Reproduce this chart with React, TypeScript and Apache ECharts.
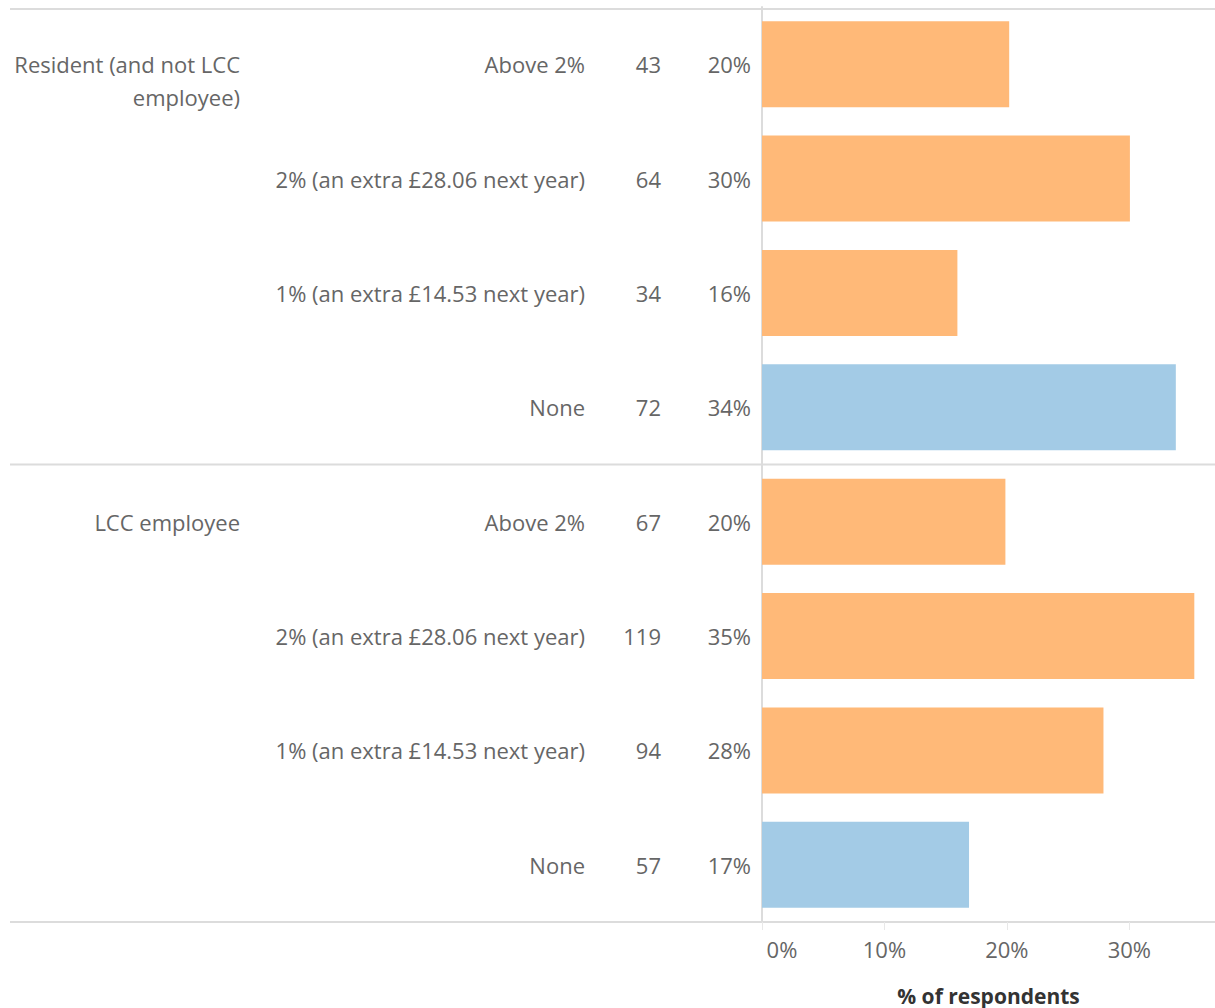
import React, { useEffect, useRef } from "react";
import * as echarts from "echarts";

const GROUP_LABELS = ["Resident (and not LCC\nemployee)", "LCC employee"];
const CATEGORIES = [
  "Above 2%",
  "2% (an extra £28.06 next year)",
  "1% (an extra £14.53 next year)",
  "None",
];
const RESIDENT_COUNTS = [43, 64, 34, 72];
const EMPLOYEE_COUNTS = [67, 119, 94, 57];
const RESIDENT_PCT = [20.19, 30.05, 15.96, 33.8];
const EMPLOYEE_PCT = [19.88, 35.31, 27.89, 16.91];
const X_TICKS = [0, 10, 20, 30];
const AXIS_TITLE = "% of respondents";

const ORANGE = "#ffb978";
const BLUE = "#a3cbe6";
const TEXT = "#666666";
const LINE = "#dcdcdc";
const FONT = "Open Sans";
const FS = 22;

const GRID_LEFT = 762;
const GRID_TOP = 7;
const GRID_W = 453;
const GRID_H = 915;

export default function App() {
  const ref = useRef<HTMLDivElement>(null);
  useEffect(() => {
    if (!ref.current) return;
    const chart = echarts.init(ref.current, undefined, { renderer: "svg" });
    const rows = [...CATEGORIES, ...CATEGORIES];
    const counts = [...RESIDENT_COUNTS, ...EMPLOYEE_COUNTS];
    const pcts = [...RESIDENT_PCT, ...EMPLOYEE_PCT];
    const rowH = GRID_H / rows.length;
    const labelStyle = { color: TEXT, fontFamily: FONT, fontSize: FS };
    const extraAxis = (data: string[], margin: number) => ({
      type: "category",
      data,
      inverse: true,
      position: "left",
      offset: 0,
      axisLine: { show: false },
      axisTick: { show: false },
      axisLabel: { ...labelStyle, margin, interval: 0 },
    });
    const groupTexts = GROUP_LABELS.map((g, i) => ({
      type: "text",
      x: 240,
      y: GRID_TOP + rowH * (i * CATEGORIES.length) + rowH / 2 - 16.5,
      style: {
        text: g,
        align: "right",
        verticalAlign: "top",
        fill: TEXT,
        font: `${FS}px "${FONT}"`,
        lineHeight: 33,
      },
    }));
    const hLine = (y: number, x1: number, x2: number) => ({
      type: "line",
      shape: { x1, y1: y, x2, y2: y },
      style: { stroke: LINE, lineWidth: 2 },
      z: 10,
    });
    chart.setOption({
      animation: false,
      grid: {
        left: GRID_LEFT,
        top: GRID_TOP,
        width: GRID_W,
        height: GRID_H,
        containLabel: false,
        outerBoundsMode: "none",
      },
      xAxis: {
        type: "value",
        min: 0,
        max: 37,
        interval: 10,
        name: AXIS_TITLE,
        nameLocation: "middle",
        nameGap: 63,
        nameTextStyle: { color: "#333333", fontFamily: FONT, fontSize: 21, fontWeight: "bold" },
        axisLine: { show: true, lineStyle: { color: LINE, width: 2 } },
        axisTick: { show: true, length: 8, lineStyle: { color: "#e8e8e8" }, customValues: X_TICKS },
        splitLine: { show: false },
        axisLabel: {
          ...labelStyle,
          margin: 16,
          customValues: X_TICKS,
          formatter: (v: number) => (v === 0 ? `{first|${v}%}` : `${v}%`),
          rich: { first: { ...labelStyle, padding: [0, 0, 0, 40] } },
        },
      },
      yAxis: [
        {
          type: "category",
          data: rows,
          inverse: true,
          axisLine: { show: true, lineStyle: { color: LINE, width: 2 } },
          axisTick: { show: false },
          axisLabel: { ...labelStyle, margin: 177, interval: 0 },
        },
        extraAxis(counts.map(String), 101),
        extraAxis(pcts.map((p) => `${Math.round(p)}%`), 11),
      ],
      series: [
        {
          type: "bar",
          yAxisIndex: 0,
          barWidth: 86,
          data: pcts.map((p, i) => ({
            value: p,
            itemStyle: { color: rows[i] === "None" ? BLUE : ORANGE },
          })),
        },
      ],
      graphic: [
        hLine(9, 10, 1215),
        hLine(GRID_TOP + GRID_H / 2, 10, 1215),
        hLine(GRID_TOP + GRID_H, 10, GRID_LEFT),
        ...groupTexts,
      ],
    });
    return () => chart.dispose();
  }, []);
  return (
    <div
      ref={ref}
      style={{ position: "fixed", left: 0, top: 0, width: 1215, height: 1008, background: "#fff" }}
    />
  );
}
